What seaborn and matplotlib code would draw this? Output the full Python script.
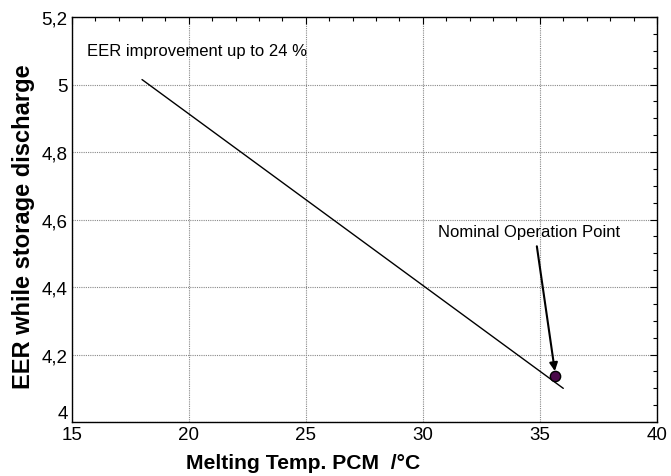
import matplotlib
matplotlib.use("Agg")
import matplotlib.pyplot as plt
import seaborn as sns
import pandas as pd
from matplotlib.ticker import FuncFormatter, MultipleLocator, FixedLocator

melt_temp = [18.0, 36.0]
eer = [5.015, 4.10]
nominal_x = [35.64]
nominal_y = [4.136]
x_ticks = [15, 20, 25, 30, 35, 40]
y_ticks = [4.0, 4.2, 4.4, 4.6, 4.8, 5.0, 5.2]

sns.set_theme(style="white")
plt.rcParams['font.family'] = ['Liberation Sans', 'DejaVu Sans']
plt.rcParams['text.color'] = 'black'
plt.rcParams['axes.labelcolor'] = 'black'
plt.rcParams['xtick.color'] = 'black'
plt.rcParams['ytick.color'] = 'black'

fig = plt.figure(figsize=(6.71, 4.77), dpi=100)
ax = fig.add_axes([0.107, 0.113, 0.872, 0.849])

df = pd.DataFrame({"x": melt_temp, "y": eer})
sns.lineplot(data=df, x="x", y="y", ax=ax, color="black", linewidth=1.0)
sns.scatterplot(x=nominal_x, y=nominal_y, ax=ax, color="#4a0a4a", edgecolor="black",
                s=55, linewidth=1.0, zorder=5)

ax.set_xlim(15, 40)
ax.set_ylim(4, 5.2)
ax.xaxis.set_major_locator(FixedLocator(x_ticks))
ax.xaxis.set_minor_locator(MultipleLocator(1))
ax.yaxis.set_major_locator(FixedLocator(y_ticks))
ax.yaxis.set_minor_locator(MultipleLocator(0.05))
fmt = FuncFormatter(lambda v, p: f"{v:g}".replace(".", ","))
ax.xaxis.set_major_formatter(fmt)
ax.yaxis.set_major_formatter(fmt)
ax.tick_params(which="both", direction="in", top=True, right=True, colors="black",
               labelsize=13.5)
ax.tick_params(which="major", length=5, width=0.8)
ax.tick_params(which="minor", length=3, width=0.8)
ax.tick_params(axis="x", which="major", pad=3)
ax.tick_params(axis="y", which="major", pad=3)
ax.grid(True, which="major", color="#888888", linestyle=(0, (1, 1)), linewidth=0.8)
for s in ax.spines.values():
    s.set_color("black")
    s.set_linewidth(1.0)

ax.set_xlabel("Melting Temp. PCM  /°C", fontsize=15.2, fontweight="bold", color="black")
ax.xaxis.set_label_coords(0.395, -0.077)
ax.set_ylabel("EER while storage discharge", fontsize=17, fontweight="bold", color="black")
ax.yaxis.set_label_coords(-0.0635, 0.485)

ax.text(15.65, 5.102, "EER improvement up to 24 %", fontsize=12, ha="left", va="center",
        color="black")
ax.text(34.55, 4.566, "Nominal Operation Point", fontsize=12, ha="center", va="center",
        color="black")
ax.annotate("", xy=(35.64, 4.151), xytext=(34.87, 4.521),
            arrowprops=dict(arrowstyle="-|>", color="black", lw=1.5,
                            shrinkA=0, shrinkB=0, mutation_scale=12))

fig.canvas.draw()
ax.yaxis.get_major_ticks()[0].label1.set_va("bottom")

fig.savefig("out.png", dpi=100)
